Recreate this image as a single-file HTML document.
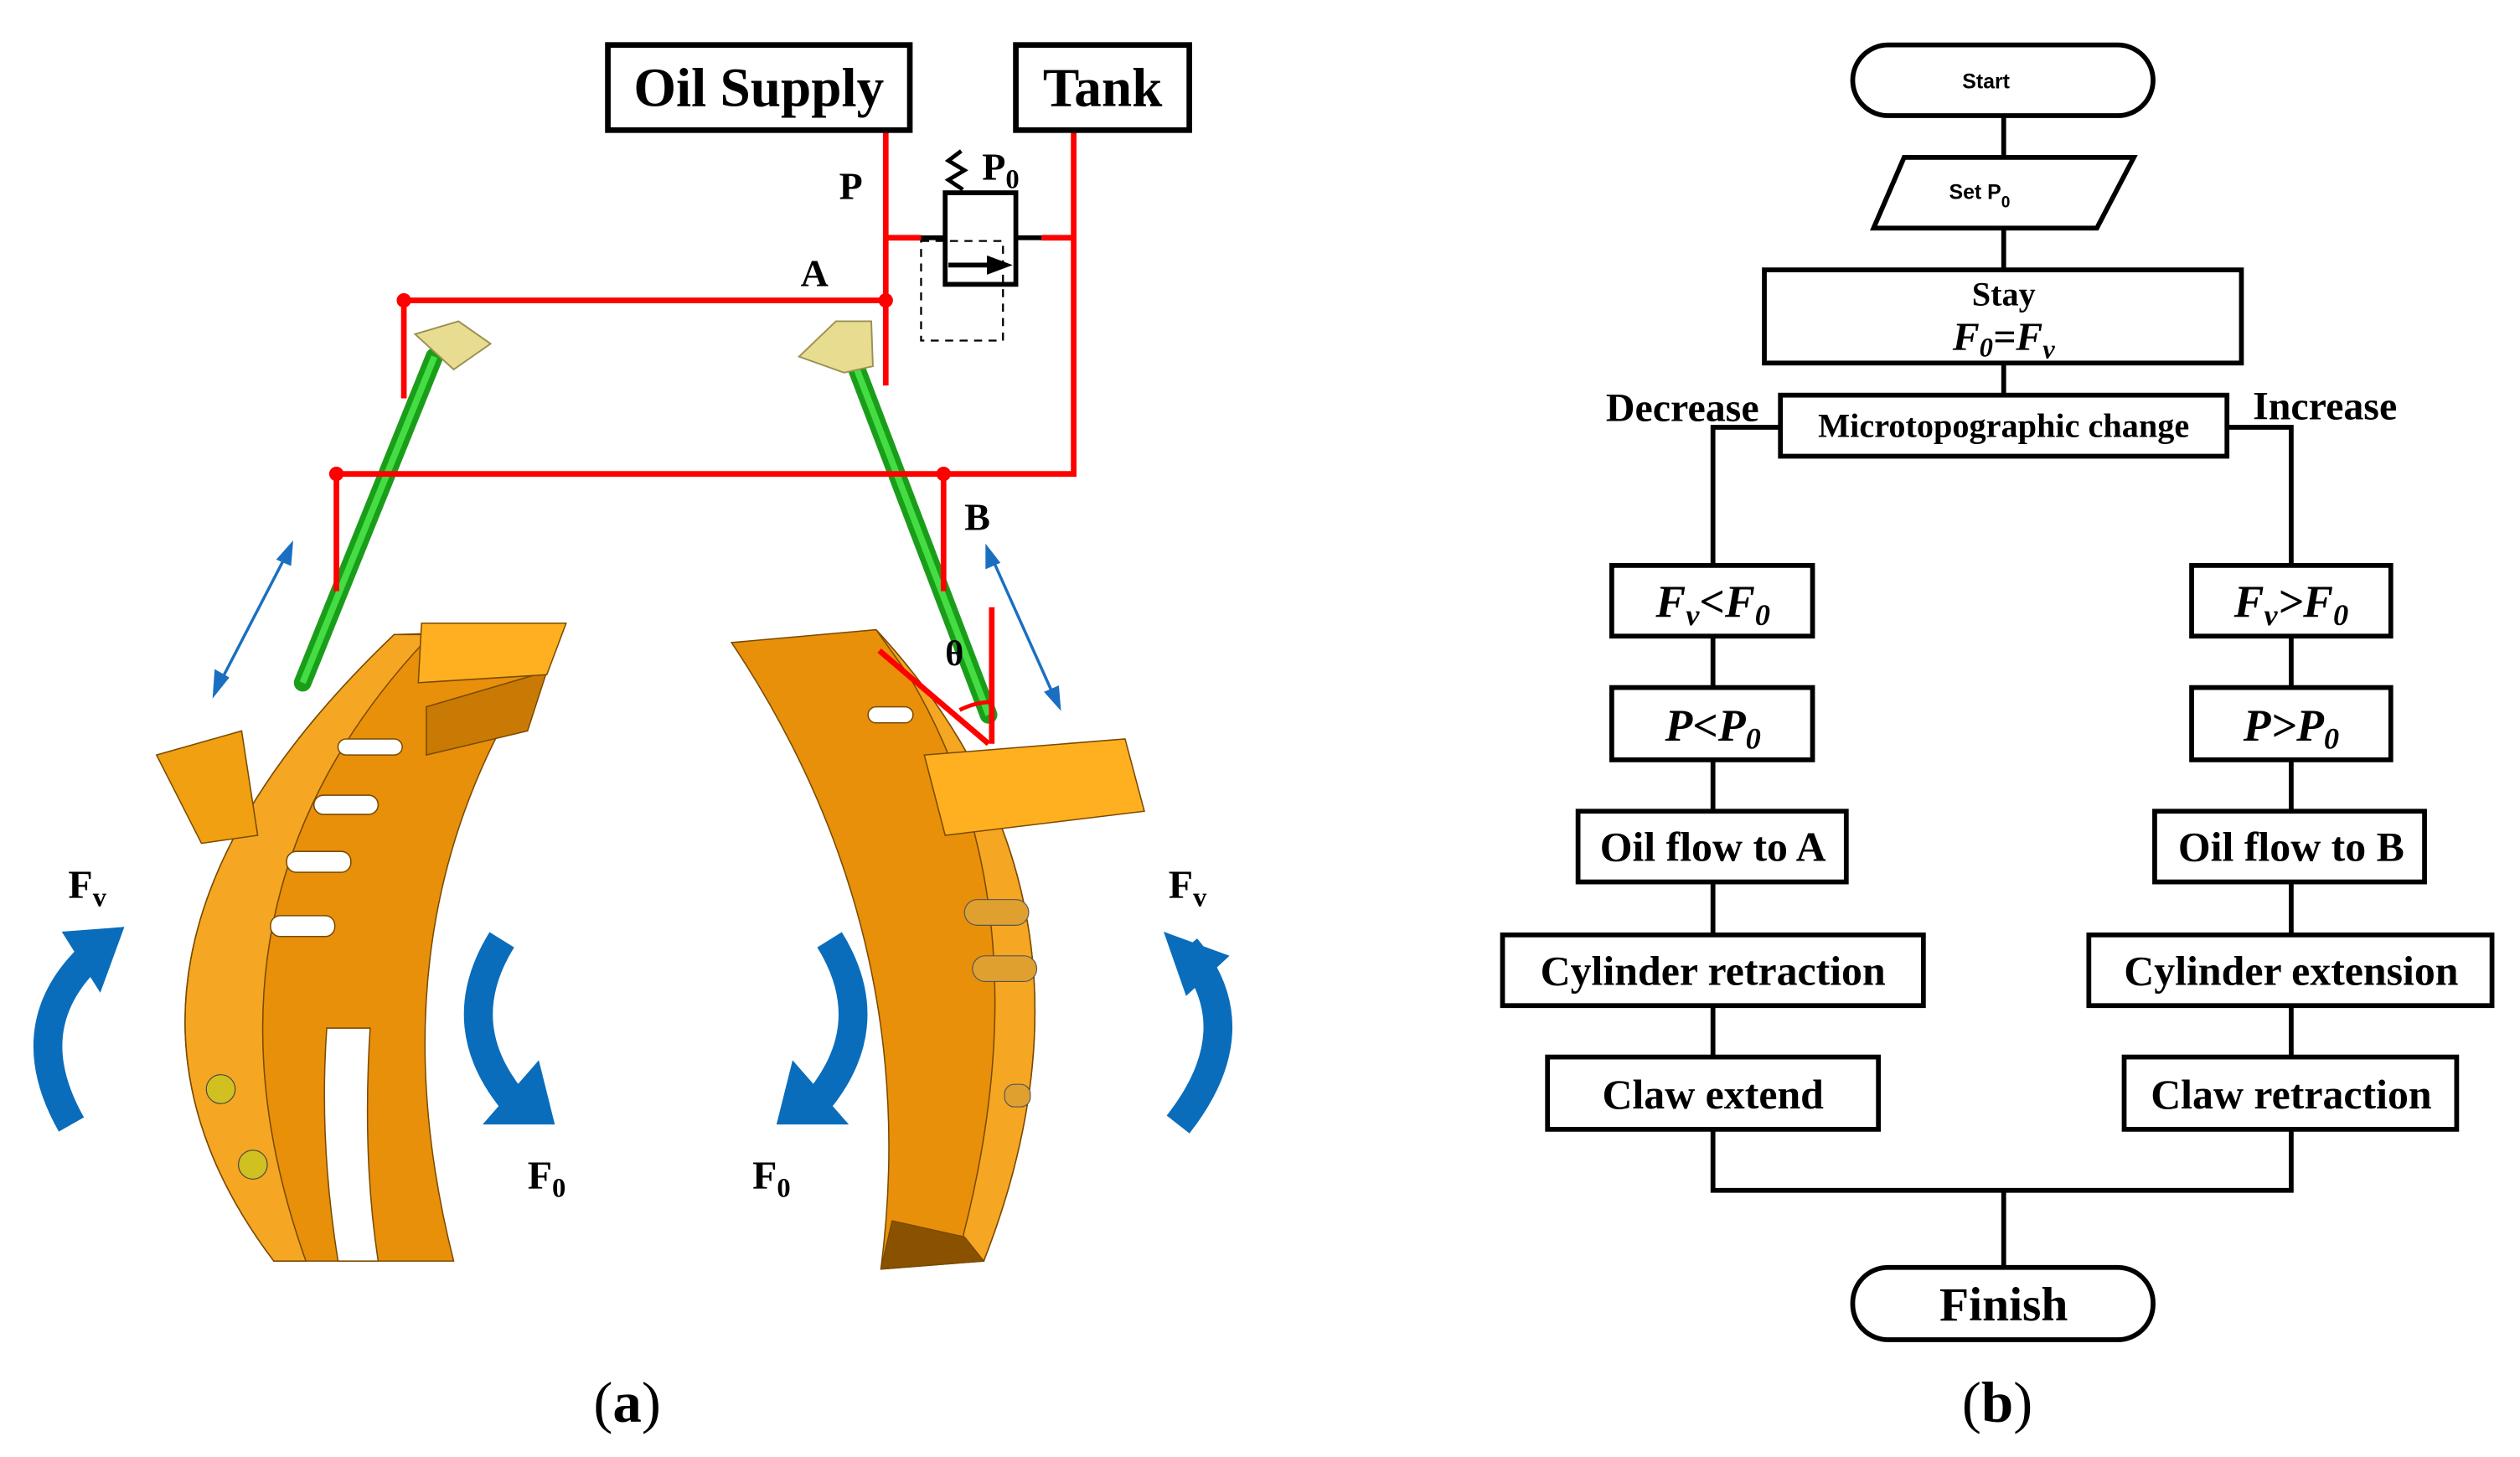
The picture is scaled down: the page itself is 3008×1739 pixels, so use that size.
<!DOCTYPE html>
<html><head><meta charset="utf-8"><style>
html,body{margin:0;padding:0;background:#fff;}
svg{display:block;}
text{font-family:"Liberation Serif",serif;font-weight:bold;fill:#000;}
</style></head><body>
<svg width="3008" height="1739" viewBox="0 0 1568 907" xmlns="http://www.w3.org/2000/svg">
<rect width="1568" height="907" fill="#fff"/>
<g stroke="#7a4a00" stroke-width="0.8">
<path d="M245,395 L350,392 Q225,560 282,785 L170,785 Q30,600 245,395 Z" fill="#e8900a"/>
<path d="M245,395 L268,395 Q110,560 190,785 L170,785 Q30,600 245,395 Z" fill="#f5a623"/>
<path d="M203,640 L230,640 Q225,720 235,785 L210,785 Q198,710 203,640 Z" fill="#fff"/>
<path d="M97,470 L150,455 L160,520 L125,525 Z" fill="#f0a010"/>
<path d="M265,440 L340,418 L328,455 L265,470 Z" fill="#c97a05"/>
<path d="M262,388 L352,388 L340,420 L260,425 Z" fill="#ffb020"/>
<path d="M455,400 L545,392 Q700,560 612,785 L548,790 Q575,580 455,400 Z" fill="#e8900a"/>
<path d="M545,392 Q700,560 612,785 L595,785 Q655,570 565,420 Z" fill="#f5a623"/>
<path d="M575,470 L700,460 L712,505 L588,520 Z" fill="#ffb020"/>
<path d="M548,790 L612,785 L600,770 L555,760 Z" fill="#8a5200"/>
</g>
<g fill="#fff" stroke="#7a4a00" stroke-width="0.8">
<rect x="210" y="460" width="40" height="10" rx="5"/><rect x="195" y="495" width="40" height="12" rx="6"/>
<rect x="178" y="530" width="40" height="13" rx="6"/><rect x="168" y="570" width="40" height="13" rx="6"/>
<rect x="540" y="440" width="28" height="10" rx="5"/>
</g>
<g fill="#d0c020" stroke="#444" stroke-width="0.6"><circle cx="137" cy="678" r="9"/><circle cx="157" cy="725" r="9"/></g>
<g fill="#e0a030" stroke="#555" stroke-width="0.6"><rect x="600" y="560" width="40" height="16" rx="8"/><rect x="605" y="595" width="40" height="16" rx="8"/><rect x="625" y="675" width="16" height="14" rx="6"/></g>
<line x1="270" y1="222" x2="188" y2="425" stroke="#1a9e1a" stroke-width="11" stroke-linecap="round"/>
<line x1="270" y1="222" x2="188" y2="425" stroke="#44dd44" stroke-width="4"/>
<line x1="530" y1="222" x2="615" y2="445" stroke="#1a9e1a" stroke-width="11" stroke-linecap="round"/>
<line x1="530" y1="222" x2="615" y2="445" stroke="#44dd44" stroke-width="4"/>
<path d="M258,208 L285,200 L305,214 L282,230 Z" fill="#e8dc90" stroke="#9a9050"/>
<path d="M497,222 L520,200 L542,200 L543,228 L525,232 Z" fill="#e8dc90" stroke="#9a9050"/>
<g stroke="#ff0000" stroke-width="3.5" fill="none">
<polyline points="551,81 551,240"/>
<polyline points="251,248 251,187 551,187"/>
<polyline points="551,148 573,148"/>
<polyline points="648,148 668,148"/>
<polyline points="668,81 668,295 209,295 209,368"/>
<polyline points="587,295 587,368"/>
<line x1="547" y1="405" x2="615" y2="463"/>
<line x1="617" y1="378" x2="617" y2="463"/>
<path d="M597,442 Q607,437 617,437" stroke-width="2.5"/>
</g>
<g fill="#ff0000"><circle cx="251" cy="187" r="4.5"/><circle cx="551" cy="187" r="4.5"/><circle cx="209" cy="295" r="4.5"/><circle cx="587" cy="295" r="4.5"/></g>
<g stroke="#000" stroke-width="3" fill="none">
<line x1="573" y1="148" x2="587" y2="148"/><line x1="632" y1="148" x2="648" y2="148"/>
<rect x="588" y="120" width="44" height="57" fill="#fff"/>
<line x1="590" y1="165" x2="618" y2="165"/>
<polyline points="599,118 590,112 600,106 590,100 598,94" stroke-width="2.5"/>
<rect x="573" y="150" width="51" height="62" stroke-width="1.2" stroke-dasharray="5,4"/>
</g>
<polygon points="614,159 630,165 614,171" fill="#000"/>
<rect x="378" y="28" width="188" height="53" fill="#fff" stroke="#000" stroke-width="3.5"/>
<text x="472" y="66" font-size="34" text-anchor="middle">Oil Supply</text>
<rect x="632" y="28" width="108" height="53" fill="#fff" stroke="#000" stroke-width="3.5"/>
<text x="686" y="66" font-size="34" text-anchor="middle">Tank</text>
<text x="522" y="124" font-size="24">P</text>
<text x="611" y="112" font-size="24">P<tspan font-size="17" dy="5">0</tspan></text>
<text x="498" y="178" font-size="24">A</text>
<text x="600" y="330" font-size="24">B</text>
<text x="588" y="414" font-size="22">θ</text>
<g stroke="#1a6fc0" stroke-width="1.8" fill="#1a6fc0">
<line x1="136" y1="426" x2="178" y2="345"/><polygon points="133,432 134,418 141,422" /><polygon points="181,339 173,348 180,351"/>
<line x1="617" y1="347" x2="656" y2="434"/><polygon points="614,341 614,353 621,350"/><polygon points="659,440 651,431 658,428"/>
</g>
<g fill="none" stroke="#0a6dbb" stroke-width="18">
<path d="M44,700 Q10,640 55,596"/>
<path d="M312,585 Q278,640 323,690"/>
<path d="M516,585 Q550,640 505,690"/>
<path d="M738,590 Q780,640 733,700"/>
</g>
<g fill="#0a6dbb">
<polygon points="38,580 77,577 62,618"/>
<polygon points="300,700 345,700 335,660"/>
<polygon points="528,700 483,700 493,660"/>
<polygon points="724,580 765,595 738,620"/>
</g>
<text x="42" y="559" font-size="25">F<tspan font-size="17" dy="5">v</tspan></text>
<text x="727" y="559" font-size="25">F<tspan font-size="17" dy="5">v</tspan></text>
<text x="328" y="740" font-size="25">F<tspan font-size="17" dy="5">0</tspan></text>
<text x="468" y="740" font-size="25">F<tspan font-size="17" dy="5">0</tspan></text>
<text x="390" y="885" font-size="36" text-anchor="middle" style="font-weight:normal">(<tspan font-weight="bold">a</tspan>)</text>
<g stroke="#000" stroke-width="3" fill="none">
<line x1="1247" y1="72" x2="1247" y2="97"/>
<line x1="1247" y1="142" x2="1247" y2="168"/>
<line x1="1247" y1="226" x2="1247" y2="246"/>
<polyline points="1108,266 1066,266 1066,352"/>
<polyline points="1386,266 1426,266 1426,352"/>
<line x1="1066" y1="396" x2="1066" y2="428"/><line x1="1066" y1="473" x2="1066" y2="505"/>
<line x1="1066" y1="549" x2="1066" y2="582"/><line x1="1066" y1="626" x2="1066" y2="658"/>
<line x1="1426" y1="396" x2="1426" y2="428"/><line x1="1426" y1="473" x2="1426" y2="505"/>
<line x1="1426" y1="549" x2="1426" y2="582"/><line x1="1426" y1="626" x2="1426" y2="658"/>
<polyline points="1066,703 1066,741 1426,741 1426,703"/>
<line x1="1247" y1="741" x2="1247" y2="789"/>
<rect x="1153" y="28" width="187" height="44" rx="22"/>
<polygon points="1185,98 1328,98 1305,142 1166,142"/>
<rect x="1098" y="168" width="297" height="58"/>
<rect x="1108" y="246" width="278" height="38"/>
<rect x="1003" y="352" width="125" height="44"/><rect x="1003" y="428" width="125" height="45"/>
<rect x="982" y="505" width="167" height="44"/><rect x="935" y="582" width="262" height="44"/>
<rect x="963" y="658" width="206" height="45"/>
<rect x="1364" y="352" width="124" height="44"/><rect x="1364" y="428" width="124" height="45"/>
<rect x="1341" y="505" width="168" height="44"/><rect x="1300" y="582" width="251" height="44"/>
<rect x="1322" y="658" width="207" height="45"/>
<rect x="1153" y="789" width="187" height="45" rx="22"/>
</g>
<g text-anchor="middle">
<text x="1236" y="55" font-size="13" style="font-family:'Liberation Sans',sans-serif">Start</text>
<text x="1232" y="124" font-size="13" style="font-family:'Liberation Sans',sans-serif">Set P<tspan font-size="10" dy="5">0</tspan></text>
<text x="1247" y="190" font-size="21">Stay</text>
<text x="1247" y="218" font-size="25" font-style="italic">F<tspan font-size="17" dy="4">0</tspan><tspan dy="-4">=F</tspan><tspan font-size="17" dy="5">v</tspan></text>
<text x="1247" y="272" font-size="21">Microtopographic change</text>
<text x="1047" y="262" font-size="25">Decrease</text>
<text x="1447" y="261" font-size="25">Increase</text>
<text x="1066" y="384" font-size="28" font-style="italic">F<tspan font-size="19" dy="5">v</tspan><tspan dy="-5">&lt;F</tspan><tspan font-size="19" dy="5">0</tspan></text>
<text x="1066" y="461" font-size="28" font-style="italic">P&lt;P<tspan font-size="19" dy="5">0</tspan></text>
<text x="1066" y="536" font-size="26">Oil flow to A</text>
<text x="1066" y="613" font-size="26">Cylinder retraction</text>
<text x="1066" y="690" font-size="26">Claw extend</text>
<text x="1426" y="384" font-size="28" font-style="italic">F<tspan font-size="19" dy="5">v</tspan><tspan dy="-5">&gt;F</tspan><tspan font-size="19" dy="5">0</tspan></text>
<text x="1426" y="461" font-size="28" font-style="italic">P&gt;P<tspan font-size="19" dy="5">0</tspan></text>
<text x="1426" y="536" font-size="26">Oil flow to B</text>
<text x="1426" y="613" font-size="26">Cylinder extension</text>
<text x="1426" y="690" font-size="26">Claw retraction</text>
<text x="1247" y="822" font-size="30">Finish</text>
</g>
<text x="1243" y="885" font-size="36" text-anchor="middle" style="font-weight:normal">(<tspan font-weight="bold">b</tspan>)</text>
</svg>
</body></html>
